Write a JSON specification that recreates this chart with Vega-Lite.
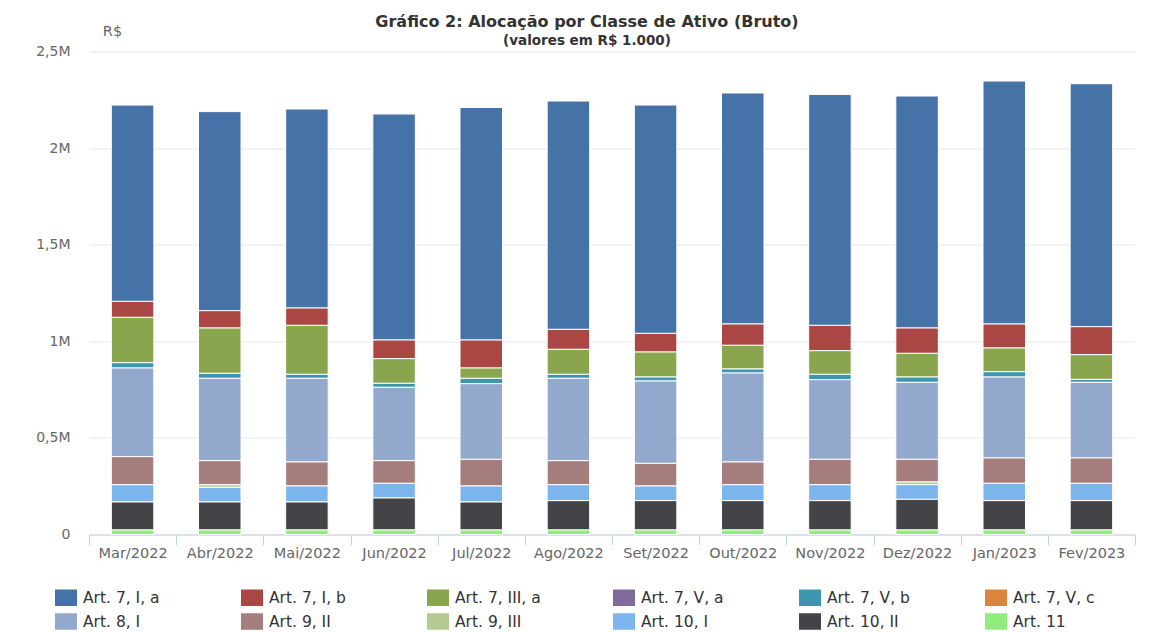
{"$schema":"https://vega.github.io/schema/vega-lite/v6.json","width":1046,"height":483,"autosize":"none","padding":{"left":89,"top":51.5,"right":38,"bottom":97.5},"background":"white",
"title":{"text":"Gráfico 2: Alocação por Classe de Ativo (Bruto)","subtitle":"(valores em R$ 1.000)","anchor":"middle","frame":"group","dx":-25,"offset":-24,"font":"DejaVu Sans","fontSize":16,"fontWeight":"bold","color":"#333333","subtitleFont":"DejaVu Sans","subtitleFontSize":13.5,"subtitleFontWeight":"bold","subtitleColor":"#333333","subtitlePadding":4,"subtitleLineHeight":14},
"data":{"values":[
{"mes":"Mar/2022","classe":"Art. 7, I, a","valor":1016000,"ordem":1},{"mes":"Mar/2022","classe":"Art. 7, I, b","valor":82800,"ordem":2},{"mes":"Mar/2022","classe":"Art. 7, III, a","valor":234600,"ordem":3},{"mes":"Mar/2022","classe":"Art. 7, V, b","valor":27600,"ordem":5},{"mes":"Mar/2022","classe":"Art. 8, I","valor":458900,"ordem":7},{"mes":"Mar/2022","classe":"Art. 9, II","valor":144900,"ordem":8},{"mes":"Mar/2022","classe":"Art. 10, I","valor":89700,"ordem":10},{"mes":"Mar/2022","classe":"Art. 10, II","valor":144900,"ordem":11},{"mes":"Mar/2022","classe":"Art. 11","valor":23300,"ordem":12},
{"mes":"Abr/2022","classe":"Art. 7, I, a","valor":1030500,"ordem":1},{"mes":"Abr/2022","classe":"Art. 7, I, b","valor":89700,"ordem":2},{"mes":"Abr/2022","classe":"Art. 7, III, a","valor":234600,"ordem":3},{"mes":"Abr/2022","classe":"Art. 7, V, b","valor":25900,"ordem":5},{"mes":"Abr/2022","classe":"Art. 8, I","valor":426100,"ordem":7},{"mes":"Abr/2022","classe":"Art. 9, II","valor":124200,"ordem":8},{"mes":"Abr/2022","classe":"Art. 9, III","valor":13800,"ordem":9},{"mes":"Abr/2022","classe":"Art. 10, I","valor":75900,"ordem":10},{"mes":"Abr/2022","classe":"Art. 10, II","valor":144900,"ordem":11},{"mes":"Abr/2022","classe":"Art. 11","valor":23300,"ordem":12},
{"mes":"Mai/2022","classe":"Art. 7, I, a","valor":1030100,"ordem":1},{"mes":"Mai/2022","classe":"Art. 7, I, b","valor":89700,"ordem":2},{"mes":"Mai/2022","classe":"Art. 7, III, a","valor":253600,"ordem":3},{"mes":"Mai/2022","classe":"Art. 7, V, b","valor":20700,"ordem":5},{"mes":"Mai/2022","classe":"Art. 8, I","valor":433000,"ordem":7},{"mes":"Mai/2022","classe":"Art. 9, II","valor":124200,"ordem":8},{"mes":"Mai/2022","classe":"Art. 10, I","valor":82800,"ordem":10},{"mes":"Mai/2022","classe":"Art. 10, II","valor":144900,"ordem":11},{"mes":"Mai/2022","classe":"Art. 11","valor":23300,"ordem":12},
{"mes":"Jun/2022","classe":"Art. 7, I, a","valor":1169800,"ordem":1},{"mes":"Jun/2022","classe":"Art. 7, I, b","valor":96600,"ordem":2},{"mes":"Jun/2022","classe":"Art. 7, III, a","valor":127700,"ordem":3},{"mes":"Jun/2022","classe":"Art. 7, V, b","valor":20700,"ordem":5},{"mes":"Jun/2022","classe":"Art. 8, I","valor":379600,"ordem":7},{"mes":"Jun/2022","classe":"Art. 9, II","valor":117300,"ordem":8},{"mes":"Jun/2022","classe":"Art. 10, I","valor":75900,"ordem":10},{"mes":"Jun/2022","classe":"Art. 10, II","valor":165600,"ordem":11},{"mes":"Jun/2022","classe":"Art. 11","valor":23300,"ordem":12},
{"mes":"Jul/2022","classe":"Art. 7, I, a","valor":1203500,"ordem":1},{"mes":"Jul/2022","classe":"Art. 7, I, b","valor":144900,"ordem":2},{"mes":"Jul/2022","classe":"Art. 7, III, a","valor":53500,"ordem":3},{"mes":"Jul/2022","classe":"Art. 7, V, b","valor":27600,"ordem":5},{"mes":"Jul/2022","classe":"Art. 8, I","valor":391600,"ordem":7},{"mes":"Jul/2022","classe":"Art. 9, II","valor":138000,"ordem":8},{"mes":"Jul/2022","classe":"Art. 10, I","valor":82800,"ordem":10},{"mes":"Jul/2022","classe":"Art. 10, II","valor":144900,"ordem":11},{"mes":"Jul/2022","classe":"Art. 11","valor":23300,"ordem":12},
{"mes":"Ago/2022","classe":"Art. 7, I, a","valor":1181900,"ordem":1},{"mes":"Ago/2022","classe":"Art. 7, I, b","valor":103500,"ordem":2},{"mes":"Ago/2022","classe":"Art. 7, III, a","valor":129400,"ordem":3},{"mes":"Ago/2022","classe":"Art. 7, V, b","valor":20700,"ordem":5},{"mes":"Ago/2022","classe":"Art. 8, I","valor":426100,"ordem":7},{"mes":"Ago/2022","classe":"Art. 9, II","valor":124200,"ordem":8},{"mes":"Ago/2022","classe":"Art. 10, I","valor":82800,"ordem":10},{"mes":"Ago/2022","classe":"Art. 10, II","valor":151800,"ordem":11},{"mes":"Ago/2022","classe":"Art. 11","valor":23300,"ordem":12},
{"mes":"Set/2022","classe":"Art. 7, I, a","valor":1181900,"ordem":1},{"mes":"Set/2022","classe":"Art. 7, I, b","valor":96600,"ordem":2},{"mes":"Set/2022","classe":"Art. 7, III, a","valor":129400,"ordem":3},{"mes":"Set/2022","classe":"Art. 7, V, b","valor":20700,"ordem":5},{"mes":"Set/2022","classe":"Art. 8, I","valor":426100,"ordem":7},{"mes":"Set/2022","classe":"Art. 9, II","valor":117300,"ordem":8},{"mes":"Set/2022","classe":"Art. 10, I","valor":75900,"ordem":10},{"mes":"Set/2022","classe":"Art. 10, II","valor":151800,"ordem":11},{"mes":"Set/2022","classe":"Art. 11","valor":23300,"ordem":12},
{"mes":"Out/2022","classe":"Art. 7, I, a","valor":1195700,"ordem":1},{"mes":"Out/2022","classe":"Art. 7, I, b","valor":110400,"ordem":2},{"mes":"Out/2022","classe":"Art. 7, III, a","valor":122500,"ordem":3},{"mes":"Out/2022","classe":"Art. 7, V, b","valor":20700,"ordem":5},{"mes":"Out/2022","classe":"Art. 8, I","valor":460700,"ordem":7},{"mes":"Out/2022","classe":"Art. 9, II","valor":117300,"ordem":8},{"mes":"Out/2022","classe":"Art. 10, I","valor":82800,"ordem":10},{"mes":"Out/2022","classe":"Art. 10, II","valor":151800,"ordem":11},{"mes":"Out/2022","classe":"Art. 11","valor":23300,"ordem":12},
{"mes":"Nov/2022","classe":"Art. 7, I, a","valor":1194800,"ordem":1},{"mes":"Nov/2022","classe":"Art. 7, I, b","valor":131100,"ordem":2},{"mes":"Nov/2022","classe":"Art. 7, III, a","valor":122500,"ordem":3},{"mes":"Nov/2022","classe":"Art. 7, V, b","valor":27600,"ordem":5},{"mes":"Nov/2022","classe":"Art. 8, I","valor":412300,"ordem":7},{"mes":"Nov/2022","classe":"Art. 9, II","valor":131100,"ordem":8},{"mes":"Nov/2022","classe":"Art. 10, I","valor":82800,"ordem":10},{"mes":"Nov/2022","classe":"Art. 10, II","valor":151800,"ordem":11},{"mes":"Nov/2022","classe":"Art. 11","valor":23300,"ordem":12},
{"mes":"Dez/2022","classe":"Art. 7, I, a","valor":1200900,"ordem":1},{"mes":"Dez/2022","classe":"Art. 7, I, b","valor":131100,"ordem":2},{"mes":"Dez/2022","classe":"Art. 7, III, a","valor":122500,"ordem":3},{"mes":"Dez/2022","classe":"Art. 7, V, b","valor":27600,"ordem":5},{"mes":"Dez/2022","classe":"Art. 8, I","valor":398500,"ordem":7},{"mes":"Dez/2022","classe":"Art. 9, II","valor":117300,"ordem":8},{"mes":"Dez/2022","classe":"Art. 9, III","valor":13800,"ordem":9},{"mes":"Dez/2022","classe":"Art. 10, I","valor":75900,"ordem":10},{"mes":"Dez/2022","classe":"Art. 10, II","valor":158700,"ordem":11},{"mes":"Dez/2022","classe":"Art. 11","valor":23300,"ordem":12},
{"mes":"Jan/2023","classe":"Art. 7, I, a","valor":1257700,"ordem":1},{"mes":"Jan/2023","classe":"Art. 7, I, b","valor":124200,"ordem":2},{"mes":"Jan/2023","classe":"Art. 7, III, a","valor":122500,"ordem":3},{"mes":"Jan/2023","classe":"Art. 7, V, b","valor":27600,"ordem":5},{"mes":"Jan/2023","classe":"Art. 8, I","valor":419200,"ordem":7},{"mes":"Jan/2023","classe":"Art. 9, II","valor":131100,"ordem":8},{"mes":"Jan/2023","classe":"Art. 10, I","valor":89700,"ordem":10},{"mes":"Jan/2023","classe":"Art. 10, II","valor":151800,"ordem":11},{"mes":"Jan/2023","classe":"Art. 11","valor":23300,"ordem":12},
{"mes":"Fev/2023","classe":"Art. 7, I, a","valor":1257600,"ordem":1},{"mes":"Fev/2023","classe":"Art. 7, I, b","valor":144900,"ordem":2},{"mes":"Fev/2023","classe":"Art. 7, III, a","valor":127700,"ordem":3},{"mes":"Fev/2023","classe":"Art. 7, V, b","valor":15500,"ordem":5},{"mes":"Fev/2023","classe":"Art. 8, I","valor":391600,"ordem":7},{"mes":"Fev/2023","classe":"Art. 9, II","valor":131100,"ordem":8},{"mes":"Fev/2023","classe":"Art. 10, I","valor":89700,"ordem":10},{"mes":"Fev/2023","classe":"Art. 10, II","valor":151800,"ordem":11},{"mes":"Fev/2023","classe":"Art. 11","valor":23300,"ordem":12}
]},
"mark":{"type":"bar","width":42.5,"stroke":"white","strokeWidth":1},
"encoding":{
"x":{"field":"mes","type":"nominal","sort":null,"scale":{"paddingInner":0,"paddingOuter":0},"title":null,"axis":{"labelAngle":0,"labelFont":"DejaVu Sans","labelFontSize":14.5,"labelColor":"#666666","labelPadding":2,"tickBand":"extent","tickSize":10,"tickColor":"#C0D0E0","domainColor":"#C0D0E0","grid":false}},
"y":{"field":"valor","type":"quantitative","stack":"zero","scale":{"domain":[0,2500000],"nice":false},"title":"R$","axis":{"values":[0,500000,1000000,1500000,2000000,2500000],"labelExpr":"datum.value==0?'0':replace(format(datum.value/1000000,'.1~f'),'.',',')+'M'","labelFont":"DejaVu Sans","labelFontSize":14,"labelColor":"#666666","labelPadding":19,"domain":false,"ticks":false,"gridColor":"#E6E6E6","titleFont":"DejaVu Sans","titleFontSize":14.5,"titleFontWeight":"normal","titleColor":"#666666","titleAngle":0,"titleX":23,"titleY":-13,"titleAlign":"center"}},
"color":{"field":"classe","type":"nominal","scale":{"domain":["Art. 7, I, a","Art. 7, I, b","Art. 7, III, a","Art. 7, V, a","Art. 7, V, b","Art. 7, V, c","Art. 8, I","Art. 9, II","Art. 9, III","Art. 10, I","Art. 10, II","Art. 11"],"range":["#4572A7","#AA4643","#89A54E","#80699B","#3D96AE","#DB843D","#92A8CD","#A47D7C","#B5CA92","#7CB5EC","#434348","#90ED7D"]},
"legend":{"title":null,"orient":"none","direction":"horizontal","columns":6,"legendX":-34,"legendY":535,"gridAlign":"all","columnPadding":72,"rowPadding":4,"symbolType":"M-1,-0.75H1V0.75H-1Z","symbolSize":484,"symbolStrokeWidth":0,"symbolOpacity":1,"labelFont":"DejaVu Sans","labelFontSize":15.5,"labelColor":"#333333","labelOffset":6,"labelLimit":120}},
"order":{"field":"ordem","type":"quantitative","sort":"descending"}
},
"config":{"view":{"stroke":null}}}
